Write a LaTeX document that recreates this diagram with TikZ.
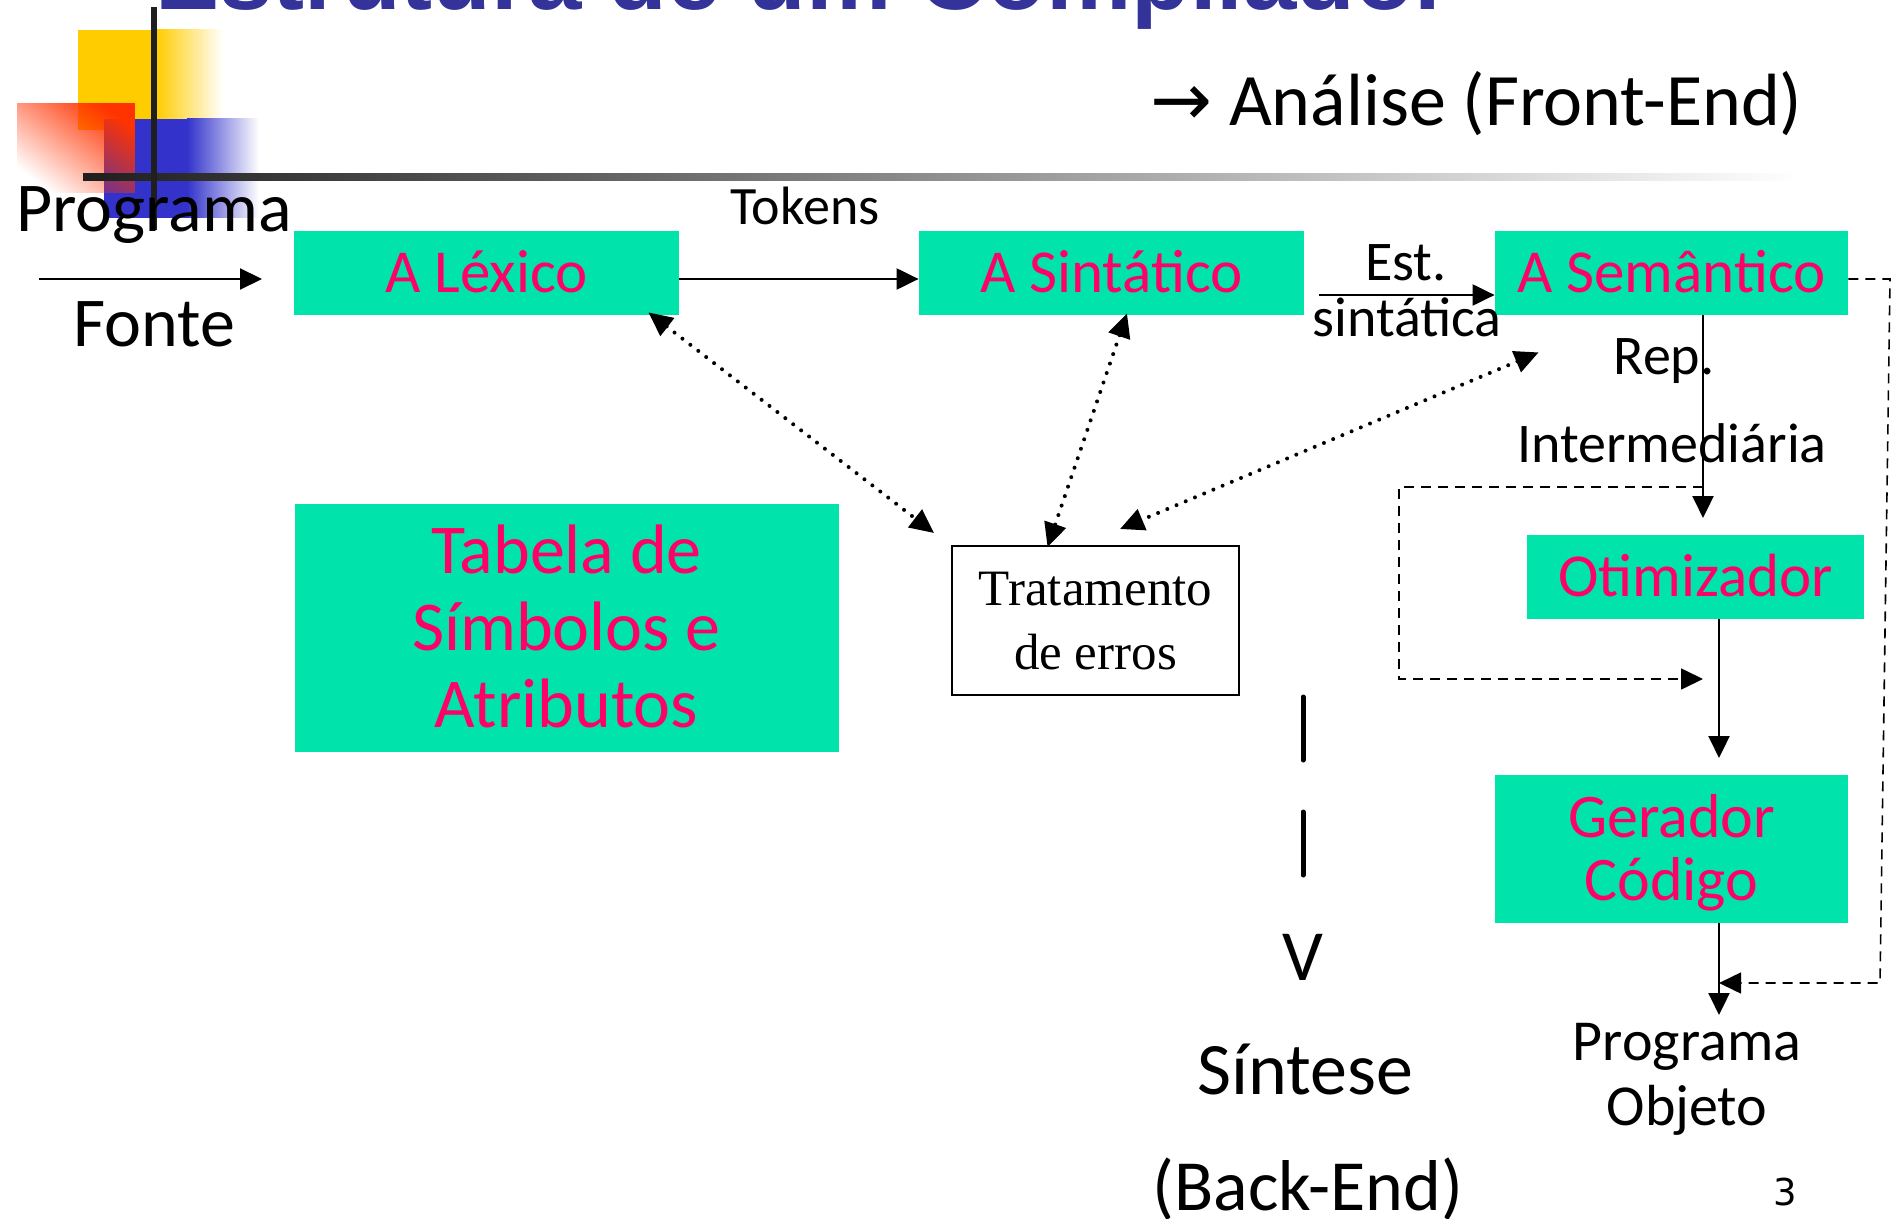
\documentclass[tikz,border=0pt]{standalone}
\usepackage{fontspec}
\setmainfont{Carlito}
\newfontfamily\serifTR{Liberation Serif}
\newfontfamily\dejavu{DejaVu Sans}
\newfontfamily\titlefont{Liberation Sans}
\usetikzlibrary{arrows.meta,calc,fadings}
\definecolor{boxgreen}{RGB}{0,227,170}
\definecolor{pinktxt}{RGB}{255,0,102}
\definecolor{titleblue}{RGB}{51,51,153}
\definecolor{decoyellow}{RGB}{255,204,0}
\definecolor{decoblue}{RGB}{51,51,204}
\definecolor{decored}{RGB}{255,51,0}
\newcommand\sz[2]{\fontsize{#1}{#2}\selectfont}
\tikzfading[name=redfadein, left color=transparent!100, right color=transparent!0]
\begin{document}
\begin{tikzpicture}[x=0.5pt,y=-0.5pt,
  gbox/.style={fill=boxgreen, draw=none, inner sep=0pt, text=pinktxt, align=center},
  onebox/.style={gbox, minimum height=42pt, text height=19.6pt, text depth=0pt, font=\sz{30.5}{32}},
  lbl/.style={inner sep=0pt, anchor=base, text=black},
  arr/.style={line width=1.1pt, -{Triangle[length=11pt,width=10.5pt]}},
  dotarr/.style={line width=2pt, line cap=round, dash pattern=on 0pt off 5pt,
     {Triangle[length=12pt,width=11pt]}-{Triangle[length=12pt,width=11pt]}},
  dasharr/.style={line width=0.8pt, dash pattern=on 5pt off 3.5pt, -{Triangle[length=11pt,width=10.5pt]}},
]
\clip (0,0) rectangle (1894,1219);
\fill[white] (0,0) rectangle (1894,1219);

% decorations
\fill[decoyellow] (78,30) rectangle (156,130);
\shade[left color=decoyellow, right color=white] (156,30) rectangle (223,130);
\fill[decoblue] (104,119) rectangle (187,218);
\shade[left color=decoblue, right color=white] (187,119) rectangle (259,218);
\fill[decored, path fading=redfadein, fading angle=45] (17,103) rectangle (135,193);
\shade[left color=black!88, middle color=black!35, right color=white] (83,173.5) rectangle (1800,180.5);
\fill[black!88] (151,7) rectangle (157,230);

% title (cut off at the top)
\node[anchor=base west, inner sep=0pt, font=\titlefont\bfseries\sz{48}{50}, text=titleblue] (title) at (155,9.5) {Estrutura de um Compilador};
\node[lbl, anchor=base west, font=\sz{37}{38}] (analise) at (1150,126) {{\dejavu →} Análise (Front-End)};

% boxes
\node[onebox, minimum width=192.5pt] (lex) at (486.5,273) {A Léxico};
\node[onebox, minimum width=192.5pt] (sin) at (1111.5,273) {A Sintático};
\node[onebox, minimum width=176.5pt] (sem) at (1671.5,273) {A Semântico};
\node[onebox, minimum width=168.5pt] (otim) at (1695.5,577) {Otimizador};
\node[gbox, minimum width=176.5pt, minimum height=74pt, font=\sz{31}{31.5}, text height=51.5pt, text depth=0pt] (ger) at (1671.5,849) {Gerador\\Código};
\node[gbox, minimum width=272pt, minimum height=124pt, font=\sz{35}{38.5}, text height=99.5pt, text depth=0pt] (tab) at (566.5,627.5) {Tabela de\\Símbolos e\\Atributos};
\node[draw, line width=1pt, fill=white, minimum width=143.5pt, minimum height=74.5pt, inner sep=0pt, align=center, font=\serifTR\sz{25.5}{32}, text height=48.9pt, text depth=0pt] (trat) at (1095.5,620.5) {Tratamento\\de erros};

% labels
\node[lbl, font=\sz{35}{36}] (prog) at (154,232) {Programa};
\node[lbl, font=\sz{35}{36}] (fonte) at (154.5,347) {Fonte};
\node[lbl, font=\sz{27}{28}] (tok) at (805,225) {Tokens};
\node[lbl, font=\sz{28}{29}] (est) at (1406,281) {Est.};
\node[lbl, font=\sz{28}{29}] (sint) at (1407,337) {sintática};
\node[lbl, font=\sz{28}{29}] (rep) at (1664,375) {Rep.};
\node[lbl, font=\sz{28}{29}] (inter) at (1672,462) {Intermediária};
\node[lbl, font=\sz{29}{32}] (pobj1) at (1687,1060) {Programa};
\node[lbl, font=\sz{29}{32}] (pobj2) at (1687,1125) {Objeto};
\node[lbl, font=\sz{36}{38}] (vv) at (1303,980) {V};
\node[lbl, font=\sz{37}{38}] (sintese) at (1305,1094.5) {Síntese};
\node[lbl, font=\sz{36}{38}] (backend) at (1308,1210) {(Back-End)};
\node[lbl, font=\dejavu\sz{18.5}{20}] (pg) at (1785,1205) {3};

% vertical bars of the down arrow
\draw[line width=2.5pt, line cap=round] (1303,697) -- (1303,760);
\draw[line width=2.5pt, line cap=round] (1303,812) -- (1303,875);

% solid connectors
\coordinate (pfin) at (39,279);
\coordinate (pfout) at (262,279);
\draw[arr] (pfin) -- (pfout);
\draw[arr] ($(lex.east)+(0,6)$) -- ($(sin.west)+(0,6)$);
\coordinate (ests) at (1319,295);
\draw[arr] (ests) -- (sem.west |- ests);
\coordinate (repx) at (1703,518);
\draw[arr] (sem.south -| repx) -- (repx);
\coordinate (ogx) at (1719,758);
\draw[arr] (otim.south -| ogx) -- (ogx);
\coordinate (gox) at (1719,1015);
\draw[arr] (ger.south -| gox) -- (gox);

% dashed connectors
\coordinate (bypa) at (1703,487);
\coordinate (bypb) at (1399,487);
\coordinate (bypc) at (1399,679);
\coordinate (bypd) at (1703,679);
\draw[dasharr] (bypa) -- (bypb) -- (bypc) -- (bypd);
\coordinate (rda) at (1890,279);
\coordinate (rdb) at (1880,983);
\coordinate (rdc) at (1719,983);
\draw[dasharr] (sem.east |- rda) -- (rda) -- (rdb) -- (rdc);

% dotted double arrows to error handling
\draw[dotarr] ($(lex.south east)+(-31,-3)$) -- ($(trat.north west)+(-17,-12)$);
\draw[dotarr] ($(sin.south)+(15.5,-2)$) -- ($(trat.north)+(-48,2)$);
\draw[dotarr] ($(sem.south west)+(44,37)$) -- ($(trat.north)+(24.5,-16)$);
\end{tikzpicture}
\end{document}
